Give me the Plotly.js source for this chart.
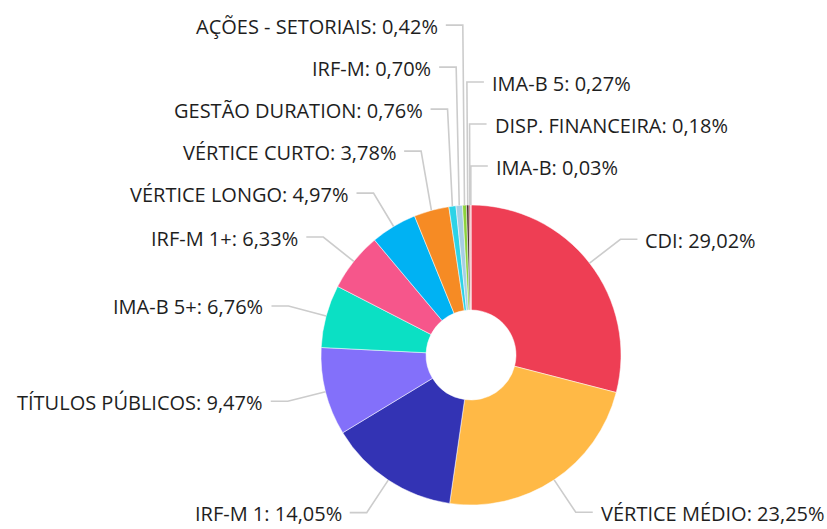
<!DOCTYPE html>
<html>
<head>
<meta charset="utf-8">
<script src="https://cdn.plot.ly/plotly-3.0.1.min.js"></script>
<style>html,body{margin:0;padding:0;background:#fff;}#chart{width:827px;height:529px;}</style>
</head>
<body>
<div id="chart"></div>
<script>
// ---- data ----
const labels = ["CDI", "VÉRTICE MÉDIO", "IRF-M 1", "TÍTULOS PÚBLICOS", "IMA-B 5+", "IRF-M 1+",
  "VÉRTICE LONGO", "VÉRTICE CURTO", "GESTÃO DURATION", "IRF-M", "AÇÕES - SETORIAIS",
  "IMA-B 5", "DISP. FINANCEIRA", "IMA-B"];
const values = [29.02, 23.25, 14.05, 9.47, 6.76, 6.33, 4.97, 3.78, 0.76, 0.70, 0.42, 0.27, 0.18, 0.03];
const valueText = ["29,02%", "23,25%", "14,05%", "9,47%", "6,76%", "6,33%", "4,97%", "3,78%",
  "0,76%", "0,70%", "0,42%", "0,27%", "0,18%", "0,03%"];
const colors = ["#EE3E54", "#FFB946", "#3333B4", "#8370FA", "#0BE0C4", "#F6568B", "#00B2F3",
  "#F68B24", "#2CD3E7", "#A6CEE3", "#8CD23C", "#4B2E2E", "#C9505C", "#F27D8A"];

// ---- layout geometry ----
const W = 827, H = 529;
const CX = 471, CY = 355, R = 150, RE = 189, GAP = 42;
const toX = px => px / W;
const toY = py => 1 - py / H;

const total = values.reduce((a, b) => a + b, 0);
let cum = 0;
const items = values.map((v, i) => {
  const mid = (cum + v / 2) / total * 2 * Math.PI;
  cum += v;
  const deg = mid * 180 / Math.PI;
  const side = (deg < 180 || deg > 358) ? 'right' : 'left';
  return {
    i, side, mid,
    ex: CX + R * Math.sin(mid), ey: CY - R * Math.cos(mid),
    kx: CX + RE * Math.sin(mid), ky: CY - RE * Math.cos(mid)
  };
});

// overlap resolution: push labels upward from the bottom on each side
['left', 'right'].forEach(side => {
  const arr = items.filter(d => d.side === side);
  const key = d => {
    let a = d.mid * 180 / Math.PI;
    if (side === 'right' && a > 180) a -= 360;
    return a;
  };
  if (side === 'left') arr.sort((a, b) => key(a) - key(b));
  else arr.sort((a, b) => key(b) - key(a));
  let prev = Infinity;
  arr.forEach(d => {
    d.ly = Math.min(d.ky, prev - GAP);
    prev = d.ly;
  });
});

const shapes = [];
const annotations = [];
items.forEach(d => {
  const dir = d.side === 'right' ? 1 : -1;
  const hx = d.kx + dir * 17;
  shapes.push({
    type: 'path', xref: 'paper', yref: 'paper',
    path: `M ${toX(d.ex)},${toY(d.ey)} L ${toX(d.kx)},${toY(d.ly)} L ${toX(hx)},${toY(d.ly)}`,
    line: {color: '#cccccc', width: 1.6}
  });
  annotations.push({
    xref: 'paper', yref: 'paper',
    x: toX(d.kx + dir * 23), y: toY(d.ly + 1),
    xanchor: d.side === 'right' ? 'left' : 'right', yanchor: 'middle',
    text: labels[d.i] + ': ' + valueText[d.i],
    showarrow: false,
    font: {family: 'Open Sans', size: 20, color: '#1e1e1e'}
  });
});

const trace = {
  type: 'pie',
  labels: labels,
  values: values,
  sort: false,
  direction: 'clockwise',
  rotation: 0,
  hole: 0.3,
  textinfo: 'none',
  hoverinfo: 'label+percent',
  marker: {colors: colors, line: {color: '#ffffff', width: 0.5}},
  domain: {x: [toX(CX - R), toX(CX + R)], y: [toY(CY + R), toY(CY - R)]}
};

Plotly.newPlot('chart', [trace], {
  width: W, height: H,
  margin: {l: 0, r: 0, t: 0, b: 0},
  showlegend: false,
  paper_bgcolor: '#ffffff',
  font: {family: 'Open Sans'},
  shapes: shapes,
  annotations: annotations
}, {displayModeBar: false, staticPlot: true});
</script>
</body>
</html>
